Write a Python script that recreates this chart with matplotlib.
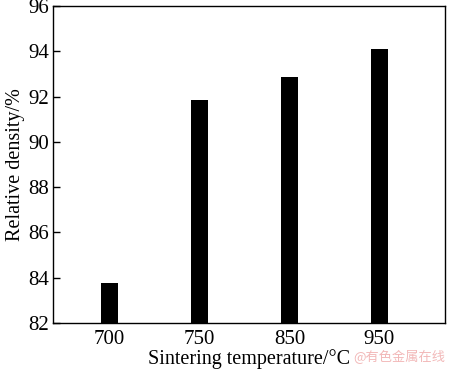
import numpy as np
import matplotlib.pyplot as plt

# sintering temperature categories and relative density values
temps = ['700', '750', '850', '950']
density = [83.75, 91.85, 92.85, 94.1]

plt.rcParams['font.family'] = ['Liberation Serif', 'DejaVu Serif']

fig = plt.figure(figsize=(4.5, 3.72), dpi=100)
ax = fig.add_axes([0.118, 0.132, 0.871, 0.852])

x = np.arange(len(temps))
ax.bar(x, np.array(density) - 82, bottom=82, width=0.19, color='black')

ax.set_xlim(-0.63, 3.73)
ax.set_ylim(82, 96)
ax.set_yticks(np.arange(82, 97, 2))
ax.set_xticks(x)
ax.set_xticklabels(temps)
ax.tick_params(axis='y', direction='in', length=5, width=1, labelsize=15, pad=3)
ax.tick_params(axis='x', length=0, labelsize=15, pad=5)
for s in ax.spines.values():
	s.set_linewidth(1)

ax.set_ylabel('Relative density/%', fontsize=14.5, labelpad=2)
ax.set_xlabel('Sintering temperature/°C', fontsize=14.5, labelpad=0)

# watermark
fig.text(0.99, 0.03, '@有色金属在线', fontsize=9.5, color='#f2b8b8', ha='right',
	family=['Noto Sans CJK SC', 'DejaVu Sans'])

fig.savefig('out.png', dpi=100)
